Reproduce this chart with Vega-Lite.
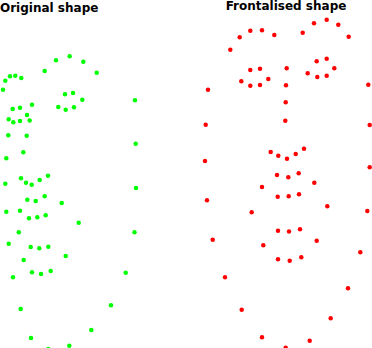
{
  "$schema": "https://vega.github.io/schema/vega-lite/v6.json",
  "padding": 0,
  "config": {
    "view": {"stroke": null},
    "font": "DejaVu Sans",
    "title": {"fontSize": 12, "fontWeight": "bold", "color": "#000000", "font": "DejaVu Sans", "offset": 4}
  },
  "spacing": 60,
  "datasets": {
    "orig": [
      {"x": 69.7, "y": 53.3}, {"x": 56, "y": 57.3}, {"x": 83.3, "y": 58.7}, {"x": 44.7, "y": 68}, {"x": 96.7, "y": 69.7},
      {"x": 15.3, "y": 72.7}, {"x": 10, "y": 73.3}, {"x": 21.3, "y": 75}, {"x": 5.3, "y": 77.7}, {"x": 3, "y": 86.7},
      {"x": 73, "y": 90}, {"x": 65, "y": 91.3}, {"x": 82.3, "y": 96.7}, {"x": 135, "y": 97.3}, {"x": 32, "y": 101.7},
      {"x": 20, "y": 104.7}, {"x": 12.7, "y": 106}, {"x": 58.3, "y": 104}, {"x": 74, "y": 104.3}, {"x": 65.7, "y": 106.7},
      {"x": 27, "y": 112}, {"x": 8.7, "y": 116.3}, {"x": 13.3, "y": 119.3}, {"x": 20, "y": 118}, {"x": 29.7, "y": 117.5},
      {"x": 8.3, "y": 132.3}, {"x": 26.7, "y": 132.7}, {"x": 135.7, "y": 140.7}, {"x": 23.3, "y": 149.3}, {"x": 6.3, "y": 155.3},
      {"x": 48, "y": 172.7}, {"x": 21, "y": 175.3}, {"x": 39.7, "y": 177}, {"x": 5.3, "y": 180.7}, {"x": 26, "y": 179.7},
      {"x": 31.7, "y": 181.7}, {"x": 136, "y": 185}, {"x": 44.7, "y": 193.3}, {"x": 27.3, "y": 196.7}, {"x": 35.7, "y": 198},
      {"x": 61.7, "y": 200}, {"x": 6.3, "y": 208.7}, {"x": 20, "y": 207.7}, {"x": 45.7, "y": 212.3}, {"x": 29, "y": 215.3},
      {"x": 37.3, "y": 214.3}, {"x": 78.7, "y": 219.7}, {"x": 18.8, "y": 229.3}, {"x": 134.5, "y": 229.3}, {"x": 8.7, "y": 240.7},
      {"x": 30.7, "y": 244}, {"x": 39.3, "y": 245.3}, {"x": 48.3, "y": 243.7}, {"x": 65.7, "y": 253}, {"x": 23.7, "y": 257},
      {"x": 32, "y": 269.3}, {"x": 41, "y": 271}, {"x": 50.7, "y": 268}, {"x": 13, "y": 274.3}, {"x": 125.7, "y": 269.7},
      {"x": 111, "y": 302.3}, {"x": 20.7, "y": 306}, {"x": 91.3, "y": 327}, {"x": 31, "y": 335}, {"x": 69.3, "y": 342.7},
      {"x": 48.3, "y": 346}
    ],
    "front": [
      {"x": 326.7, "y": 16.7}, {"x": 314, "y": 20.3}, {"x": 338.3, "y": 21.7}, {"x": 250.3, "y": 27.7}, {"x": 262, "y": 27.3},
      {"x": 302.7, "y": 29.7}, {"x": 239.7, "y": 34.3}, {"x": 274.3, "y": 32}, {"x": 348.7, "y": 33.7}, {"x": 230.3, "y": 46.7},
      {"x": 316.7, "y": 58.3}, {"x": 326.7, "y": 55.7}, {"x": 250.3, "y": 67}, {"x": 260, "y": 65.7}, {"x": 286.7, "y": 65.3},
      {"x": 334.3, "y": 65.3}, {"x": 307.7, "y": 70.3}, {"x": 317.3, "y": 74}, {"x": 326.7, "y": 72.7}, {"x": 241.3, "y": 78.3},
      {"x": 268.3, "y": 76}, {"x": 250.3, "y": 82.7}, {"x": 260, "y": 82}, {"x": 286, "y": 82.3}, {"x": 368.3, "y": 81.7},
      {"x": 208, "y": 86.7}, {"x": 285.7, "y": 99.3}, {"x": 285.3, "y": 117.7},
      {"x": 205.7, "y": 121.7}, {"x": 369.7, "y": 122}, {"x": 270.7, "y": 149}, {"x": 278.3, "y": 152.7}, {"x": 304, "y": 145.7},
      {"x": 295.7, "y": 151}, {"x": 287, "y": 155.7}, {"x": 205, "y": 158}, {"x": 369.7, "y": 164.3}, {"x": 277, "y": 172},
      {"x": 288.3, "y": 174.3}, {"x": 298.7, "y": 170.3}, {"x": 314.3, "y": 179.7}, {"x": 262, "y": 184}, {"x": 207, "y": 197.3},
      {"x": 277.7, "y": 193.7}, {"x": 288.7, "y": 193.3}, {"x": 299, "y": 191.3}, {"x": 327.3, "y": 203.3}, {"x": 251.7, "y": 209.3},
      {"x": 367.3, "y": 208}, {"x": 278, "y": 227.7}, {"x": 289, "y": 228.5}, {"x": 300, "y": 226.3},
      {"x": 212.7, "y": 236.7}, {"x": 316.7, "y": 237.7}, {"x": 263.3, "y": 242.3}, {"x": 360.3, "y": 249.3}, {"x": 278, "y": 256.3},
      {"x": 289.7, "y": 257.7}, {"x": 301.3, "y": 254.3}, {"x": 225, "y": 274.3}, {"x": 348, "y": 285.3}, {"x": 241.7, "y": 306.7},
      {"x": 330.7, "y": 315.3}, {"x": 262, "y": 334.3}, {"x": 309.7, "y": 337.7}, {"x": 285.7, "y": 344.7}
    ]
  },
  "hconcat": [
    {
      "title": {"text": "Original shape", "anchor": "start"},
      "width": 140,
      "height": 332,
      "data": {"name": "orig"},
      "mark": {"type": "circle", "color": "#00ff00", "opacity": 1, "size": 20},
      "encoding": {
        "x": {"field": "x", "type": "quantitative", "scale": {"domain": [0, 140]}, "axis": null},
        "y": {"field": "y", "type": "quantitative", "scale": {"domain": [16, 348], "reverse": true}, "axis": null}
      }
    },
    {
      "title": {"text": "Frontalised shape", "anchor": "middle"},
      "width": 172,
      "height": 332,
      "data": {"name": "front"},
      "mark": {"type": "circle", "color": "#ff0000", "opacity": 1, "size": 20},
      "encoding": {
        "x": {"field": "x", "type": "quantitative", "scale": {"domain": [200, 372]}, "axis": null},
        "y": {"field": "y", "type": "quantitative", "scale": {"domain": [16, 348], "reverse": true}, "axis": null}
      }
    }
  ]
}
